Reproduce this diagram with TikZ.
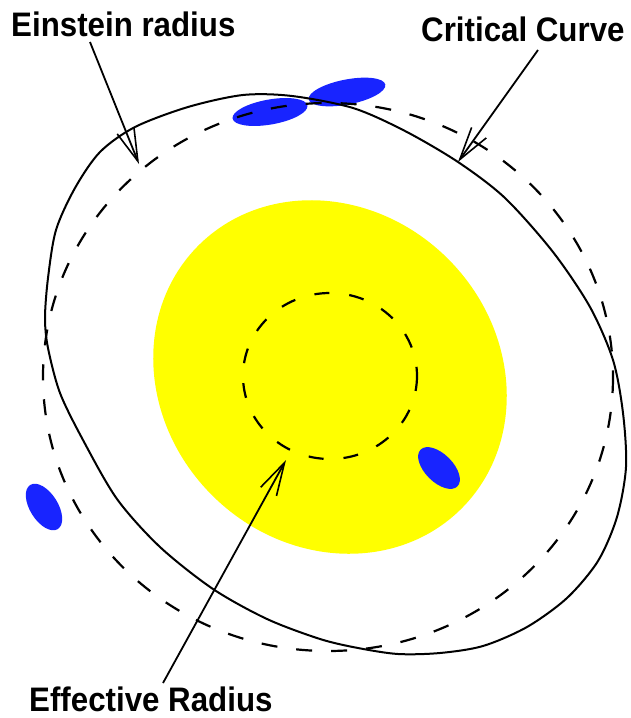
\documentclass[tikz,border=0pt]{standalone}
\usepackage{fontspec}
\setmainfont{Liberation Sans}
\newfontfamily\lblfont[FakeStretch=0.92]{Liberation Sans}
\usetikzlibrary{arrows.meta}
\definecolor{blobblue}{RGB}{24,36,255}
\definecolor{lensyellow}{RGB}{255,255,0}
\begin{document}
\begin{tikzpicture}[x=1pt,y=-1pt,
  crit/.style={line width=2pt, black, line join=round},
  dashline/.style={line width=2.2pt, black, dash pattern=on 16pt off 19pt},
  pointer/.style={line width=1.8pt, black, -{Straight Barb[length=33pt,width=18pt,line width=1.6pt]}},
  lbl/.style={font=\lblfont\fontsize{34}{38}\selectfont\bfseries, inner sep=0pt, anchor=base west},
  blob/.style={fill=blobblue, draw=none}]
\useasboundingbox (0,0) rectangle (630,718);
\fill[white] (0,0) rectangle (630,718);

% yellow effective region
\fill[lensyellow, rotate around={-45:(330,377)}] (330,377) ellipse (186 and 167);

% images (blue blobs)
\fill[blob, rotate around={10:(270,112)}] (270,112) ellipse (38 and 12.5);
\fill[blob, rotate around={11:(347,92)}] (347,92) ellipse (39 and 12.5);
\fill[blob, rotate around={-45:(439,468)}] (439,468) ellipse (26 and 14);
\fill[blob, rotate around={-58:(44,507)}] (44,507) ellipse (26 and 14);

% effective radius circle
\draw[dashline, dash pattern=on 15pt off 20pt] (330,376) ellipse (87 and 83);

% Einstein radius (dashed)
\draw[dashline] (328,377) ellipse (285 and 274);

% critical curve (solid)
\draw[crit] plot[smooth cycle, tension=0.5] coordinates {
 (100,152) (135,127) (188,107) (243,95) (292,96) (353,108) (405,131) (458,162)
 (505,198) (553,252) (590,307) (613,360) (623,413) (626,467) (617,517) (598,561)
 (567,598) (527,627) (483,646) (440,653) (398,654) (358,648) (320,639) (267,619)
 (213,589) (160,547) (117,499) (83,440) (60,393) (48,348) (45,318) (48,278)
 (56,230) (75,188)};

% labels
\node[lbl] (ein) at (11,36) {Einstein radius};
\node[lbl] (crc) at (421,41) {Critical Curve};
\node[lbl] (eff) at (29,711) {Effective Radius};

% arrows
\coordinate (einTail) at (90,42);
\coordinate (einTip) at (139,164);
\coordinate (crcTail) at (538,50);
\coordinate (crcTip) at (458,162);
\coordinate (effTail) at (163,683);
\coordinate (effTip) at (286,460);
\draw[pointer] (einTail) -- (einTip);
\draw[pointer] (crcTail) -- (crcTip);
\draw[pointer] (effTail) -- (effTip);
\end{tikzpicture}
\end{document}
